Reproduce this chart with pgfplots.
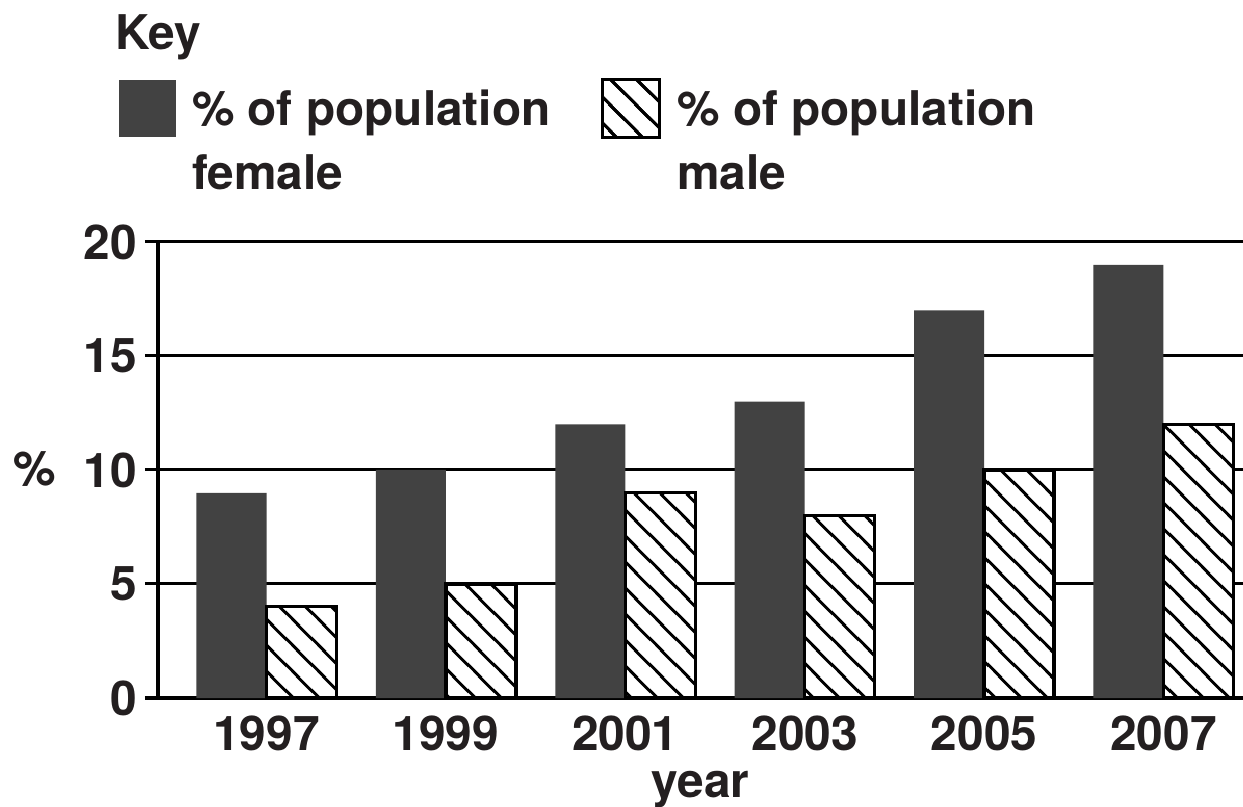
\documentclass[border=0pt]{standalone}
\usepackage{fontspec}
\setmainfont{TeX Gyre Heros}
\usepackage{pgfplots}
\pgfplotsset{compat=1.18}
\usetikzlibrary{patterns}

\definecolor{fem}{RGB}{66,66,66}
\definecolor{ink}{RGB}{35,31,32}
\newcommand\bigf{\fontsize{48}{64}\selectfont\bfseries}

% coarse north-west hatching; lines cross the tile edges at their midpoints
\pgfdeclarepatternformonly{bighatch}{\pgfqpoint{0bp}{0bp}}{\pgfqpoint{26bp}{26bp}}{\pgfqpoint{26bp}{26bp}}{
  \pgfsetlinewidth{3bp}
  \pgfpathmoveto{\pgfqpoint{-4bp}{17bp}}\pgfpathlineto{\pgfqpoint{17bp}{-4bp}}
  \pgfpathmoveto{\pgfqpoint{9bp}{30bp}}\pgfpathlineto{\pgfqpoint{30bp}{9bp}}
  \pgfusepath{stroke}
}

\begin{document}
\begin{tikzpicture}
\path[use as bounding box] (0,0) rectangle (1243bp,807bp);
\begin{axis}[
    at={(158bp,109bp)}, anchor=south west,
    scale only axis,
    width=1085bp, height=456bp,
    clip=false,
    ybar,
    bar width=0.3902,
    xmin=-0.6048, xmax=5.443,
    ymin=0, ymax=20,
    axis lines*=left,
    axis line style={line width=3.2bp, black},
    xtick=data,
    xticklabels={1997,1999,2001,2003,2005,2007},
    ytick={0,5,10,15,20},
    /pgf/number format/assume math mode=true,
    tick align=outside,
    major tick length=13bp,
    xtick style={draw=none},
    ytick style={line width=3bp, black},
    ymajorgrids,
    grid style={line width=3bp, black},
    tick label style={font=\bigf, text=ink, inner sep=0pt},
    xticklabel style={anchor=base, yshift=-39bp},
    yticklabel style={anchor=east, xshift=-8bp},
    xlabel={year},
    xlabel style={font=\bigf, text=ink, inner sep=0pt, anchor=base,
        at={(axis description cs:0.5,-0.2171)}},
    ylabel={\%},
    ylabel style={font=\bigf, text=ink, inner sep=0pt, rotate=-90, anchor=base west,
        at={(axis description cs:-0.1336,0.467)}},
    legend columns=2,
    legend cell align=left,
    legend style={
        at={(axis description cs:-0.03594,1.3596)}, anchor=north west,
        draw=none, fill=none, inner sep=0pt, outer sep=0pt,
        font=\bigf, text=ink,
        nodes={inner sep=0pt},
        /tikz/every odd column/.append style={column sep=16bp},
        /tikz/every even column/.append style={column sep=49bp},
    },
]
\addplot[draw=none, fill=fem, bar shift=-0.1951,
    legend image code/.code={\fill[fem] (0bp,-28bp) rectangle (57bp,29bp);}]
    coordinates {(0,9) (1,10) (2,12) (3,13) (4,17) (5,19)};
\addlegendentry{\parbox[t]{360bp}{\% of population\\female}}

\addplot[draw=black, line width=3.3bp, fill=white, bar shift=0.1951,
    postaction={pattern=bighatch, pattern color=black},
    legend image code/.code={\draw[draw=black, line width=3.3bp, fill=white,
        postaction={pattern=bighatch, pattern color=black}]
        (1.5bp,-29bp) rectangle (58.5bp,29bp);}]
    coordinates {(0,4) (1,5) (2,9) (3,8) (4,10) (5,12)};
\addlegendentry{\parbox[t]{360bp}{\% of population\\male}}

\node[anchor=base west, inner sep=0pt, font=\bigf, text=ink]
    at (axis description cs:-0.0396,1.4232) {Key};
\end{axis}
\end{tikzpicture}
\end{document}
